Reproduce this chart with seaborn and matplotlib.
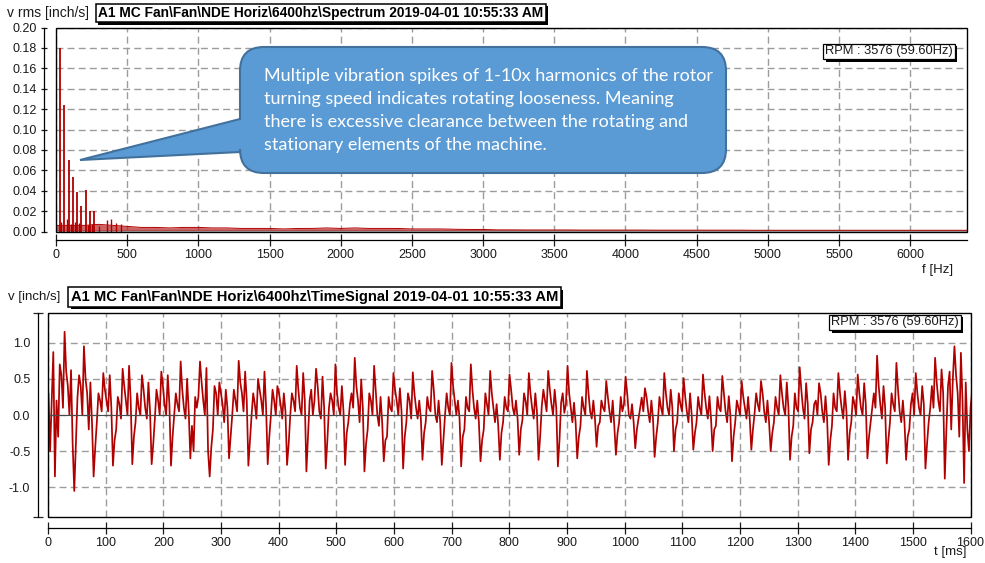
import numpy as np
import pandas as pd
import matplotlib
matplotlib.use("Agg")
import matplotlib.pyplot as plt
import seaborn as sns
from matplotlib.path import Path
from matplotlib.patches import PathPatch, Rectangle
from matplotlib import patheffects as pe
from matplotlib.transforms import Affine2D
from matplotlib.ticker import FixedLocator, FormatStrFormatter, NullFormatter

# ---------------- data: spectrum ----------------
harmonic_hz = [29.8, 59.6, 89.4, 119.2, 149.0, 178.8, 208.6, 238.4, 268.2]
harmonic_amp = [0.180, 0.124, 0.070, 0.053, 0.039, 0.025, 0.041, 0.020, 0.020]
minor_hz = [35, 75, 104, 133, 163, 225, 255, 300, 356, 386, 421, 456]
minor_amp = [0.009, 0.012, 0.007, 0.009, 0.008, 0.006, 0.007, 0.005, 0.011, 0.012, 0.008, 0.007]
floor_hz = list(range(0, 6401, 100))
floor_top = [0.006, 0.006, 0.006, 0.007, 0.006, 0.005, 0.004, 0.004, 0.0035, 0.004,
             0.004, 0.0035, 0.0035, 0.003, 0.003, 0.003, 0.0025, 0.003, 0.003, 0.0035,
             0.003, 0.0035, 0.003, 0.003, 0.003, 0.0025, 0.0025, 0.0025, 0.0022, 0.002,
             0.002, 0.0016, 0.0016, 0.0015, 0.0015, 0.0015, 0.0015, 0.0014, 0.0014, 0.0014,
             0.0014, 0.0014, 0.0013, 0.0013, 0.0013, 0.0013, 0.0013, 0.0013, 0.0013, 0.0012,
             0.0012, 0.0012, 0.0012, 0.0012, 0.0012, 0.0012, 0.0012, 0.0012, 0.0012, 0.0012,
             0.0012, 0.0012, 0.0012, 0.0012, 0.0012]
floor_base = 0.001
gray_level = 0.0015
spec_xticks = [0, 500, 1000, 1500, 2000, 2500, 3000, 3500, 4000, 4500, 5000, 5500, 6000]
spec_yticks = [0.00, 0.02, 0.04, 0.06, 0.08, 0.10, 0.12, 0.14, 0.16, 0.18, 0.20]

# ---------------- data: time signal (12 readings per ~33.5 ms cycle) ----------------
lead_in = [0.0, 0.3, -0.5, 0.2, 0.87]
cyc_trough = [-0.85, -1.05, -0.85, -0.70, -0.68, -0.68, -0.70, -0.60, -0.85, -0.60,
              -0.70, -0.68, -0.69, -0.78, -0.74, -0.69, -0.78, -0.64, -0.74, -0.62,
              -0.69, -0.71, -0.64, -0.62, -0.55, -0.62, -0.71, -0.60, -0.44, -0.55,
              -0.46, -0.58, -0.50, -0.48, -0.50, -0.64, -0.48, -0.50, -0.62, -0.53,
              -0.69, -0.62, -0.60, -0.67, -0.62, -0.74, -0.88, -0.94]
cyc_a = [0.20, -0.40, -0.45, -0.35, -0.30, -0.40, -0.30, -0.15, -0.45, -0.30,
         -0.35, -0.30, -0.40, -0.30, -0.35, -0.25, -0.40, -0.35, -0.30, -0.25,
         -0.35, -0.30, -0.35, -0.25, -0.20, -0.30, -0.35, -0.30, -0.15, -0.25,
         -0.20, -0.30, -0.20, -0.25, -0.20, -0.30, -0.20, -0.25, -0.30, -0.20,
         -0.35, -0.25, -0.30, -0.35, -0.30, -0.40, -0.20, 0.45]
cyc_rise1 = [-0.30, 0.25, -0.10, -0.20, -0.10, -0.05, 0.00, -0.50, -0.20, 0.00,
             0.00, 0.00, 0.00, 0.20, 0.10, -0.10, -0.20, -0.30, -0.10, -0.10,
             0.00, -0.20, -0.20, -0.10, -0.07, 0.12, 0.17, -0.15, -0.10, -0.10,
             -0.05, -0.10, -0.10, -0.10, -0.15, -0.10, 0.02, -0.10, -0.15, -0.10,
             -0.15, -0.10, -0.10, -0.10, -0.20, -0.10, 0.40, -0.20]
cyc_b = [0.70, 0.55, 0.30, 0.25, 0.30, 0.35, 0.30, 0.25, 0.40, 0.35,
         0.30, 0.35, 0.30, 0.35, 0.30, 0.15, 0.30, 0.25, 0.30, 0.25,
         0.30, 0.25, 0.30, 0.25, 0.30, 0.35, 0.30, 0.25, 0.20, 0.25,
         0.10, 0.25, 0.30, 0.25, 0.25, 0.20, 0.30, 0.25, 0.30, 0.15,
         0.30, 0.25, 0.10, 0.30, 0.15, 0.10, 0.60, -0.50]
cyc_rise2 = [0.55, 0.40, 0.20, 0.15, 0.10, 0.20, 0.15, 0.10, 0.30, 0.20,
             0.15, 0.20, 0.20, 0.00, 0.20, 0.30, 0.20, 0.10, 0.20, 0.10,
             0.10, 0.10, 0.15, 0.10, 0.19, 0.20, 0.03, 0.10, 0.10, 0.05,
             0.24, 0.10, 0.15, 0.10, 0.10, 0.10, 0.15, 0.10, 0.10, 0.20,
             0.10, 0.15, 0.30, 0.15, 0.30, 0.40, -0.20, 0.10]
cyc_c = [0.10, 0.00, 0.05, -0.05, 0.00, 0.00, 0.05, 0.25, 0.00, 0.05,
         -0.05, 0.00, 0.05, 0.20, 0.00, 0.10, 0.00, 0.05, -0.05, 0.05,
         0.00, 0.05, 0.00, 0.05, 0.00, 0.05, 0.15, 0.00, 0.05, 0.15,
         0.05, 0.00, 0.05, 0.00, 0.05, 0.00, 0.05, 0.00, 0.05, 0.00,
         0.05, 0.00, 0.10, 0.05, 0.00, 0.10, 0.50, 0.35]
cyc_peak = [1.15, 0.95, 0.58, 0.64, 0.55, 0.60, 0.74, 0.74, 0.45, 0.75,
            0.50, 0.40, 0.68, 0.64, 0.70, 0.79, 0.68, 0.58, 0.59, 0.61,
            0.72, 0.70, 0.61, 0.56, 0.58, 0.61, 0.68, 0.61, 0.47, 0.53,
            0.37, 0.58, 0.51, 0.56, 0.54, 0.47, 0.47, 0.55, 0.66, 0.44,
            0.58, 0.56, 0.82, 0.72, 0.58, 0.79, 0.95, 0.30]
cyc_d = [0.60, 0.50, 0.35, 0.40, 0.35, 0.40, 0.35, 0.45, 0.30, 0.45,
         0.35, 0.30, 0.35, 0.40, 0.30, 0.40, 0.35, 0.35, 0.30, 0.35,
         0.40, 0.35, 0.30, 0.35, 0.30, 0.35, 0.30, 0.30, 0.25, 0.30,
         0.25, 0.30, 0.25, 0.30, 0.30, 0.25, 0.30, 0.30, 0.35, 0.30,
         0.30, 0.30, 0.40, 0.35, 0.30, 0.45, 0.55, 0.30]
cyc_dip = [0.40, 0.30, 0.20, 0.20, 0.10, 0.15, 0.10, 0.20, 0.15, 0.30,
           0.20, 0.15, 0.10, 0.05, 0.10, 0.20, 0.00, 0.20, 0.10, 0.00,
           0.20, 0.10, 0.10, 0.10, 0.10, 0.15, 0.10, 0.05, 0.05, 0.00,
           0.05, 0.10, 0.05, 0.10, 0.05, 0.10, 0.05, 0.10, 0.10, 0.05,
           0.10, 0.10, 0.15, 0.05, 0.10, 0.20, 0.30, 0.20]
cyc_e = [0.00, -0.20, 0.05, 0.00, -0.05, 0.00, -0.05, 0.00, -0.10, 0.05,
         0.00, -0.05, 0.00, -0.05, 0.00, -0.10, -0.15, 0.00, -0.05, -0.10,
         0.00, -0.05, -0.10, 0.00, -0.05, 0.00, -0.10, -0.05, -0.10, -0.05,
         -0.10, 0.00, -0.10, -0.05, -0.10, -0.05, -0.10, 0.00, -0.05, -0.10,
         -0.05, 0.00, -0.05, -0.10, 0.00, 0.05, -0.30, 0.00]
cyc_shoulder = [0.62, 0.45, 0.55, 0.68, 0.45, 0.55, 0.50, 0.65, 0.35, 0.60,
                0.60, 0.30, 0.58, 0.53, 0.40, 0.49, 0.25, 0.37, 0.20, 0.20,
                0.20, 0.20, 0.15, 0.20, 0.30, 0.35, 0.17, 0.20, 0.20, 0.15,
                0.20, 0.35, 0.30, 0.26, 0.26, 0.25, 0.20, 0.45, 0.44, 0.26,
                0.33, 0.44, 0.40, 0.20, 0.40, 0.63, 0.86, 0.40]
cyc_f = [-0.40, -0.10, 0.10, 0.20, 0.05, 0.15, 0.05, -0.50, 0.10, 0.20,
         0.10, 0.05, 0.20, 0.10, 0.05, 0.10, -0.10, 0.05, -0.05, -0.10,
         -0.05, -0.10, -0.15, -0.05, 0.05, 0.10, -0.10, -0.05, -0.15, -0.10,
         -0.05, 0.10, 0.00, -0.05, 0.00, -0.05, -0.10, 0.10, 0.15, -0.05,
         0.05, 0.15, 0.10, -0.10, 0.15, 0.30, 0.20, 0.10]
first_sample_ms = -1.98
sample_step_ms = 2.796
time_xticks = [0, 100, 200, 300, 400, 500, 600, 700, 800, 900, 1000, 1100, 1200, 1300, 1400, 1500, 1600]
time_yticks = [-1.0, -0.5, 0.0, 0.5, 1.0]

rpm_label = "RPM : 3576 (59.60Hz)"
spec_ylabel = "v rms [inch/s]"
time_ylabel = "v [inch/s]"
spec_title = r"A1 MC Fan\Fan\NDE Horiz\6400hz\Spectrum 2019-04-01 10:55:33 AM"
time_title = r"A1 MC Fan\Fan\NDE Horiz\6400hz\TimeSignal 2019-04-01 10:55:33 AM"
note_lines = ["Multiple vibration spikes of 1-10x harmonics of the rotor",
              "turning speed indicates rotating looseness. Meaning",
              "there is excessive clearance between the rotating and",
              "stationary elements of the machine."]

# ---------------- build tables ----------------
velocity = list(lead_in)
for vals in zip(cyc_trough, cyc_a, cyc_rise1, cyc_b, cyc_rise2, cyc_c,
                cyc_peak, cyc_d, cyc_dip, cyc_e, cyc_shoulder, cyc_f):
    velocity.extend(vals)
time_ms = first_sample_ms + sample_step_ms * np.arange(len(velocity))
sig = pd.DataFrame({"t": time_ms, "v": velocity})
spec_floor = pd.DataFrame({"f": floor_hz, "v": floor_top})

# ---------------- style ----------------
sns.set_theme(style="white")
plt.rcParams["font.family"] = ["Liberation Sans", "DejaVu Sans"]
plt.rcParams["axes.unicode_minus"] = False

W, H = 985, 563
fig = plt.figure(figsize=(W / 100, H / 100), dpi=100)
fig.patch.set_facecolor("white")


def fx(px):
    return px / W


def fy(py):
    return 1 - py / H


RED = "#b00000"
GRID = "#9c9c9c"
TXT = "#1a1a1a"
dash = (0, (5, 3))

ax1 = fig.add_axes([fx(56), fy(231.5), (967 - 56) / W, (231.5 - 27.5) / H])
ax2 = fig.add_axes([fx(48), fy(517), (970.5 - 48) / W, (517 - 313) / H])

for ax in (ax1, ax2):
    ax.set_facecolor("white")
    ax.set_axisbelow(True)
    ax.spines["top"].set_visible(False)
    ax.spines["right"].set_visible(False)
    for s in ("left", "bottom"):
        ax.spines[s].set_color("black")
        ax.spines[s].set_linewidth(0.9)
    ax.add_patch(Rectangle((0, 0), 1, 1, transform=ax.transAxes, fill=False,
                           ec="black", lw=1.0, clip_on=False, zorder=6))

# ---- spectrum ----
ax1.fill_between(floor_hz, 0, gray_level, color="#a9a9a9", lw=0, zorder=2)
ax1.fill_between(floor_hz, floor_base, floor_top, color="#b82222", lw=0, alpha=0.7, zorder=2.5)
sns.lineplot(data=spec_floor, x="f", y="v", ax=ax1, color=RED, lw=0.7, zorder=3)
ax1.vlines(minor_hz, 0, minor_amp, color=RED, lw=1.0, zorder=3)
ax1.vlines(harmonic_hz, 0, harmonic_amp, color=RED, lw=1.3, zorder=3)
ax1.set_xlim(0, 6400)
ax1.set_ylim(0, 0.2)
ax1.xaxis.set_major_locator(FixedLocator(spec_xticks))
ax1.yaxis.set_major_locator(FixedLocator(spec_yticks))
ax1.yaxis.set_major_formatter(FormatStrFormatter("%.2f"))
ax1.grid(True, ls=dash, color=GRID, lw=1.0)
ax1.spines["left"].set_position(("outward", 8.6))
ax1.spines["bottom"].set_position(("outward", 5.8))
ax1.tick_params(axis="y", direction="inout", length=5, width=0.9, labelsize=9,
                pad=2.5, colors=TXT, left=True)
ax1.tick_params(axis="x", direction="inout", length=8, width=0.9, labelsize=9,
                pad=2.5, colors=TXT, bottom=True)
ax1.set_xlabel("")
ax1.set_ylabel("")

# ---- time signal ----
sns.lineplot(data=sig, x="t", y="v", ax=ax2, color=RED, lw=1.25, estimator=None,
             sort=False, zorder=3)
ax2.axhline(0, color="#4a4a4a", lw=0.8, zorder=4)
ax2.set_xlim(0, 1600)
ax2.set_ylim(-1.41, 1.41)
ax2.xaxis.set_major_locator(FixedLocator(time_xticks))
ax2.yaxis.set_major_locator(FixedLocator(time_yticks))
ax2.yaxis.set_minor_locator(FixedLocator([-1.41, 1.41]))
ax2.yaxis.set_minor_formatter(NullFormatter())
ax2.yaxis.set_major_formatter(FormatStrFormatter("%.1f"))
ax2.grid(True, which="major", ls=dash, color=GRID, lw=1.0)
ax2.grid(False, which="minor")
ax2.spines["left"].set_position(("outward", 7.2))
ax2.spines["bottom"].set_position(("outward", 7.9))
ax2.tick_params(axis="y", which="major", length=0, labelsize=9, pad=5.5, colors=TXT, left=True)
ax2.tick_params(axis="y", which="minor", direction="inout", length=7, width=0.9, left=True)
ax2.tick_params(axis="x", direction="inout", length=8, width=0.9, labelsize=9,
                pad=2.5, colors=TXT, bottom=True)
ax2.set_xlabel("")
ax2.set_ylabel("")

# ---- header texts ----
def title_box(x, y, s, size):
    t = fig.text(fx(x), fy(y), s, ha="left", va="center", fontsize=size,
                 fontweight="bold", color="black",
                 bbox=dict(boxstyle="square,pad=0.18", fc="white", ec="black", lw=1.1))
    t.get_bbox_patch().set_path_effects(
        [pe.SimplePatchShadow(offset=(1.6, -1.6), shadow_rgbFace="black", alpha=1.0), pe.Normal()])
    return t


fig.text(fx(7), fy(13), spec_ylabel, ha="left", va="center", fontsize=10, color=TXT)
title_box(98, 13, spec_title, 9.9)
fig.text(fx(8), fy(297), time_ylabel, ha="left", va="center", fontsize=9.5, color=TXT)
title_box(71, 297, time_title, 10.6)


def rpm_box(xr, y):
    t = fig.text(fx(xr), fy(y), rpm_label, ha="right", va="center", fontsize=9.3,
                 color=TXT,
                 bbox=dict(boxstyle="square,pad=0.15", fc="white", ec="black", lw=0.9))
    t.get_bbox_patch().set_path_effects(
        [pe.SimplePatchShadow(offset=(1.6, -1.6), shadow_rgbFace="black", alpha=1.0), pe.Normal()])


rpm_box(953, 51.5)
rpm_box(959, 322.5)

fig.text(fx(953), fy(270), "f [Hz]", ha="right", va="center", fontsize=9.5, color=TXT)
fig.text(fx(966), fy(552), "t [ms]", ha="right", va="center", fontsize=9.5, color=TXT)

# ---- callout ----
px2fig = Affine2D().scale(1 / W, -1 / H).translate(0, 1) + fig.transFigure
x0, x1, y0, y1, r = 240, 726, 47, 173, 24
tip = (80, 160)
verts = [(x0 + r, y0), (x1 - r, y0), (x1, y0), (x1, y0 + r), (x1, y1 - r), (x1, y1),
         (x1 - r, y1), (x0 + r, y1), (x0, y1), (x0, y1 - r), (x0, 152), tip, (x0, 119),
         (x0, y0 + r), (x0, y0), (x0 + r, y0), (x0 + r, y0)]
codes = [Path.MOVETO, Path.LINETO, Path.CURVE3, Path.CURVE3, Path.LINETO, Path.CURVE3,
         Path.CURVE3, Path.LINETO, Path.CURVE3, Path.CURVE3, Path.LINETO, Path.LINETO,
         Path.LINETO, Path.LINETO, Path.CURVE3, Path.CURVE3, Path.CLOSEPOLY]
callout = PathPatch(Path(verts, codes), transform=px2fig, fc="#5b9bd5", ec="#41719c",
                    lw=1.5, zorder=20)
fig.add_artist(callout)
for i, line in enumerate(note_lines):
    fig.text(fx(264), fy(75.5 + 23.3 * i), line, ha="left", va="center", fontsize=13,
             color="white", family=["Lato", "DejaVu Sans"], zorder=21)

fig.savefig("out.png", dpi=100, facecolor="white")
